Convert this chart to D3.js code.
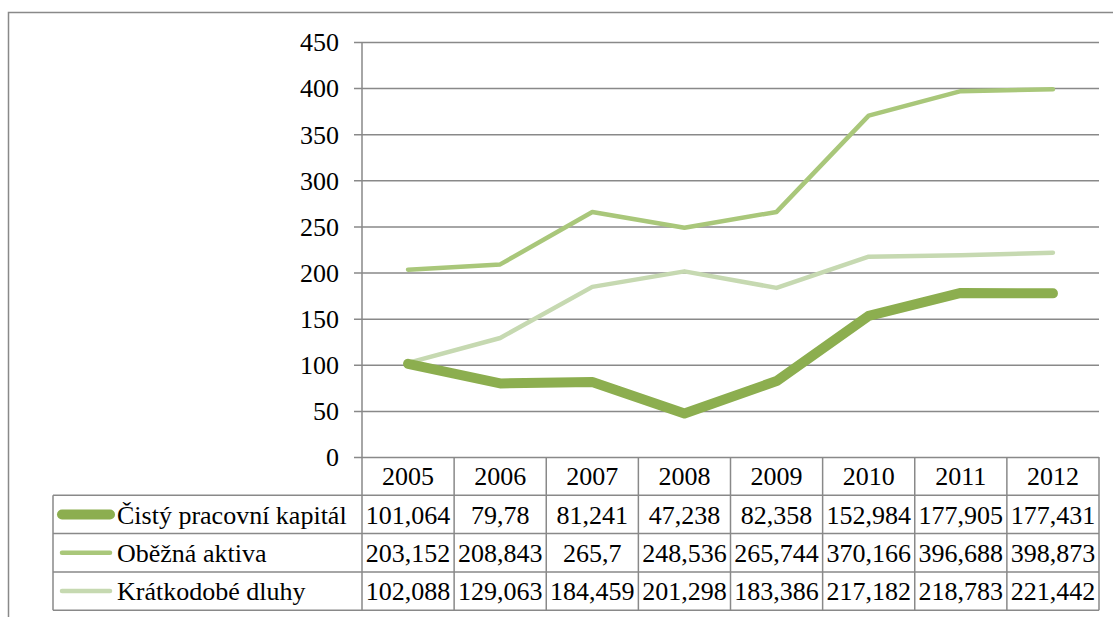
<!DOCTYPE html>
<html>
<head>
<meta charset="utf-8">
<script src="https://cdn.jsdelivr.net/npm/d3@7/dist/d3.min.js"></script>
<style>
  html, body { margin: 0; padding: 0; background: #fff; }
  svg { display: block; }
</style>
</head>
<body>
<svg id="chart" width="1113" height="617"></svg>
<script>
// Years shown on the category axis and in the table header
const years = ["2005", "2006", "2007", "2008", "2009", "2010", "2011", "2012"];

// Series values (thousands), one array per row of the data table
const cistyPracovniKapital = [101.064, 79.78, 81.241, 47.238, 82.358, 152.984, 177.905, 177.431];
const obeznaAktiva        = [203.152, 208.843, 265.7, 248.536, 265.744, 370.166, 396.688, 398.873];
const kratkodobeDluhy     = [102.088, 129.063, 184.459, 201.298, 183.386, 217.182, 218.783, 221.442];

// Labels as they appear in the table (Czech decimal comma)
const cistyLabels  = ["101,064", "79,78", "81,241", "47,238", "82,358", "152,984", "177,905", "177,431"];
const obeznaLabels = ["203,152", "208,843", "265,7", "248,536", "265,744", "370,166", "396,688", "398,873"];
const kratkLabels  = ["102,088", "129,063", "184,459", "201,298", "183,386", "217,182", "218,783", "221,442"];

const yTicks = [0, 50, 100, 150, 200, 250, 300, 350, 400, 450];

const series = [
  { name: "Čistý pracovní kapitál", values: cistyPracovniKapital, labels: cistyLabels,  color: "#8cae4f", width: 10 },
  { name: "Oběžná aktiva",          values: obeznaAktiva,         labels: obeznaLabels, color: "#a9c77a", width: 4.5 },
  { name: "Krátkodobé dluhy",       values: kratkodobeDluhy,      labels: kratkLabels,  color: "#c6d9b1", width: 4.5 }
];

const svg = d3.select("#chart");
const gridColor = "#898989";
const fontSize = 26;

const styleText = sel => sel
  .style("font-family", '"Liberation Serif"')
  .style("font-size", fontSize + "px")
  .style("fill", "#000");

// Plot frame
const plotLeft = 362, plotRight = 1099, plotTop = 42, plotBottom = 457;
const tableLeft = 53;
const rowH = 38.3;

const x = d3.scaleBand().domain(years).range([plotLeft, plotRight]).padding(0);
const y = d3.scaleLinear().domain([0, 450]).range([plotBottom, plotTop]);

// Outer chart border
svg.append("rect")
  .attr("x", 8.5).attr("y", 12.5)
  .attr("width", 1130).attr("height", 640)
  .attr("fill", "none").attr("stroke", gridColor).attr("stroke-width", 1.5);

// Horizontal gridlines with the value axis
const yAxis = d3.axisLeft(y).tickValues(yTicks).tickSize(-(plotRight - plotLeft)).tickPadding(23);
const gy = svg.append("g").attr("transform", `translate(${plotLeft},0)`).call(yAxis);
gy.attr("font-family", null).attr("font-size", null);
gy.select(".domain").remove();
gy.selectAll(".tick line")
  .attr("x1", -8)
  .attr("stroke", gridColor).attr("stroke-width", 1.5);
gy.selectAll(".tick text").call(styleText).attr("dy", "0.34em");

// Vertical value axis line
svg.append("line")
  .attr("x1", plotLeft).attr("x2", plotLeft)
  .attr("y1", plotTop).attr("y2", plotBottom)
  .attr("stroke", gridColor).attr("stroke-width", 1.5);

// Data table grid
const tableBottom = plotBottom + rowH * 4;
const tableG = svg.append("g");
const hLine = (x1, x2, yy) => tableG.append("line")
  .attr("x1", x1).attr("x2", x2).attr("y1", yy).attr("y2", yy)
  .attr("stroke", gridColor).attr("stroke-width", 1.5);
const vLine = (xx, y1, y2) => tableG.append("line")
  .attr("x1", xx).attr("x2", xx).attr("y1", y1).attr("y2", y2)
  .attr("stroke", gridColor).attr("stroke-width", 1.5);

for (let r = 1; r <= 4; r++) hLine(tableLeft, plotRight, plotBottom + rowH * r);
vLine(tableLeft, plotBottom + rowH, tableBottom);
years.forEach(yr => vLine(x(yr), plotBottom, tableBottom));
vLine(plotRight, plotBottom, tableBottom);

// Year header row
tableG.selectAll("text.year").data(years).join("text")
  .attr("class", "year")
  .attr("x", d => x(d) + x.bandwidth() / 2)
  .attr("y", plotBottom + rowH / 2)
  .attr("dy", "0.35em")
  .attr("text-anchor", "middle")
  .call(styleText)
  .text(d => d);

// Series rows: legend key, name, values
series.forEach((s, i) => {
  const cy = plotBottom + rowH * (i + 1) + rowH / 2;
  tableG.append("line")
    .attr("x1", 62).attr("x2", 110).attr("y1", cy).attr("y2", cy)
    .attr("stroke", s.color).attr("stroke-width", s.width).attr("stroke-linecap", "round");
  tableG.append("text")
    .attr("x", 117).attr("y", cy).attr("dy", "0.35em")
    .call(styleText)
    .text(s.name);
  tableG.selectAll(null).data(s.labels).join("text")
    .attr("x", (d, j) => x(years[j]) + x.bandwidth() / 2)
    .attr("y", cy).attr("dy", "0.35em")
    .attr("text-anchor", "middle")
    .call(styleText)
    .text(d => d);
});

// Lines, drawn lightest first so the thick line sits on top
const line = d3.line()
  .x((d, i) => x(years[i]) + x.bandwidth() / 2)
  .y(d => y(d));

series.slice().reverse().forEach(s => {
  svg.append("path")
    .datum(s.values)
    .attr("d", line)
    .attr("fill", "none")
    .attr("stroke", s.color)
    .attr("stroke-width", s.width)
    .attr("stroke-linejoin", "round")
    .attr("stroke-linecap", "round");
});
</script>
</body>
</html>
